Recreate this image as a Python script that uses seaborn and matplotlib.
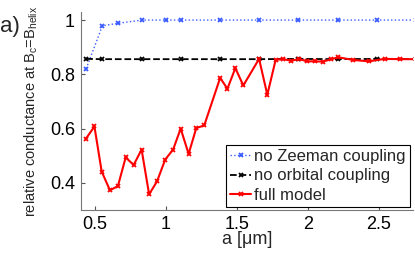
import matplotlib
matplotlib.use("Agg")
import matplotlib.pyplot as plt
import seaborn as sns
import numpy as np
import pandas as pd

# data
a_zeeman = [0.44, 0.554, 0.663, 0.832, 1.003, 1.105, 1.38, 1.657, 1.93, 2.21, 2.49, 2.76]
g_zeeman = [0.821, 0.979, 0.988, 1.0, 1.0, 1.0, 1.0, 1.0, 1.0, 1.0, 1.0, 1.0]

a_orbital = [0.44, 0.554, 0.832, 1.105, 1.38, 1.657, 1.93, 2.21, 2.49, 2.76]
g_orbital = [0.857, 0.856, 0.856, 0.856, 0.856, 0.856, 0.857, 0.856, 0.857, 0.856]

a_full = [0.437, 0.498, 0.549, 0.607, 0.663, 0.718, 0.774, 0.830, 0.883, 0.939,
          0.996, 1.052, 1.105, 1.161, 1.215, 1.271, 1.383, 1.434, 1.490, 1.546,
          1.657, 1.715, 1.774, 1.828, 1.885, 1.939, 1.993, 2.049, 2.105, 2.161,
          2.214, 2.32, 2.43, 2.54, 2.65, 2.76]
g_full = [0.562, 0.608, 0.442, 0.373, 0.388, 0.494, 0.466, 0.523, 0.358, 0.406,
          0.486, 0.523, 0.600, 0.507, 0.602, 0.612, 0.787, 0.747, 0.823, 0.759,
          0.857, 0.725, 0.854, 0.856, 0.850, 0.857, 0.848, 0.848, 0.847, 0.855,
          0.863, 0.853, 0.848, 0.857, 0.856, 0.856]

labels = ["no Zeeman coupling", "no orbital coupling", "full model"]
xticks = [0.5, 1, 1.5, 2, 2.5]
yticks = [0.4, 0.6, 0.8, 1.0]

sns.set_style("ticks")
plt.rcParams['font.family'] = ['Liberation Sans', 'DejaVu Sans']
plt.rcParams['mathtext.default'] = 'regular'

fig = plt.figure(figsize=(4.15, 2.54), dpi=100)
ax = fig.add_axes([0.194, 0.173, 0.801, 0.780])

styles = [('#3a5cff', ':', 1.0), ('black', '--', 1.3), ('#ff0000', '-', 1.5)]
series = [(a_zeeman, g_zeeman), (a_orbital, g_orbital), (a_full, g_full)]
for (xs, ys), (col, ls, lw), lab in zip(series, styles, labels):
    sns.lineplot(x=xs, y=ys, ax=ax, color=col, linestyle=ls, linewidth=lw,
                 marker='x', markersize=3.5, markeredgewidth=1.3,
                 markeredgecolor=col, markerfacecolor=col, label=lab)

ax.set_xlim(0.4, 2.74)
ax.set_ylim(0.3, 1.03)
ax.set_xticks(xticks)
ax.set_xticklabels(["0.5", "1", "1.5", "2", "2.5"])
ax.set_yticks(yticks)
ax.set_yticklabels(["0.4", "0.6", "0.8", "1"])
ax.tick_params(direction='in', length=3, width=0.8, colors='#555555',
               labelcolor='black', labelsize=13, pad=4)
for s in ['top', 'right']:
    ax.spines[s].set_visible(False)
for s in ['left', 'bottom']:
    ax.spines[s].set_color('#777777')
    ax.spines[s].set_linewidth(0.8)

ax.set_xlabel("a [\u03bcm]", fontsize=13, labelpad=-1)
ax.set_ylabel("relative conductance at B$_c$=B$_{helix}$", fontsize=10.5, labelpad=7)

leg = ax.legend(loc='lower right', fontsize=12, frameon=True, fancybox=False,
                handlelength=1.3, handletextpad=0.15, labelspacing=0.25,
                borderpad=0.25, borderaxespad=0.2)
leg.get_frame().set_edgecolor('black')
leg.get_frame().set_linewidth(0.8)
leg.get_frame().set_alpha(1)

fig.text(0.0, 0.875, "a)", fontsize=16)

plt.savefig('out.png', dpi=100)
